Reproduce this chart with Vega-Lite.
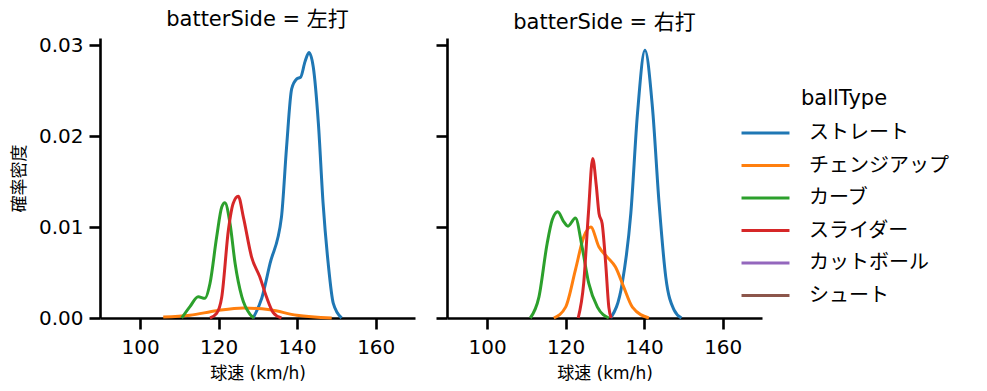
{
  "$schema": "https://vega.github.io/schema/vega-lite/v6.json",
  "background": "white",
  "padding": {"left": 10, "top": 9, "right": 5, "bottom": 5},
  "config": {
    "font": "DejaVu Sans, Noto Sans CJK JP",
    "view": {"stroke": null},
    "axis": {"grid": false, "domainColor": "black", "domainWidth": 2.6, "tickColor": "black", "tickWidth": 2.6, "tickSize": 11, "labelFontSize": 20, "labelColor": "black", "titleFontSize": 17, "titleFontWeight": "normal", "titleColor": "black", "labelPadding": 6, "titlePadding": 6},
    "axisX": {"labelPadding": 8, "titlePadding": 8},
    "title": {"fontSize": 21, "fontWeight": "normal", "color": "black", "offset": 5},
    "legend": {"titleFontSize": 21, "titleFontWeight": "normal", "labelFontSize": 20, "titleColor": "black", "labelColor": "black"},
    "concat": {"spacing": 19}
  },
  "datasets": {
    "kde": [
      {"side": "左打", "type": "ストレート", "x": 128.8, "d": 0},
      {"side": "左打", "type": "ストレート", "x": 131.0, "d": 0.0022},
      {"side": "左打", "type": "ストレート", "x": 133.1, "d": 0.0060},
      {"side": "左打", "type": "ストレート", "x": 136.0, "d": 0.0111},
      {"side": "左打", "type": "ストレート", "x": 137.3, "d": 0.0188},
      {"side": "左打", "type": "ストレート", "x": 138.6, "d": 0.0252},
      {"side": "左打", "type": "ストレート", "x": 139.9, "d": 0.0263},
      {"side": "左打", "type": "ストレート", "x": 140.9, "d": 0.0265},
      {"side": "左打", "type": "ストレート", "x": 142.0, "d": 0.0282},
      {"side": "左打", "type": "ストレート", "x": 143.0, "d": 0.0292},
      {"side": "左打", "type": "ストレート", "x": 144.1, "d": 0.0276},
      {"side": "左打", "type": "ストレート", "x": 145.4, "d": 0.0214},
      {"side": "左打", "type": "ストレート", "x": 146.6, "d": 0.0126},
      {"side": "左打", "type": "ストレート", "x": 147.9, "d": 0.0060},
      {"side": "左打", "type": "ストレート", "x": 149.2, "d": 0.0016},
      {"side": "左打", "type": "ストレート", "x": 151.3, "d": 0},
      {"side": "左打", "type": "チェンジアップ", "x": 105.9, "d": 0.0001},
      {"side": "左打", "type": "チェンジアップ", "x": 112.7, "d": 0.0003},
      {"side": "左打", "type": "チェンジアップ", "x": 119.5, "d": 0.0008},
      {"side": "左打", "type": "チェンジアップ", "x": 126.3, "d": 0.0011},
      {"side": "左打", "type": "チェンジアップ", "x": 133.1, "d": 0.0009},
      {"side": "左打", "type": "チェンジアップ", "x": 139.9, "d": 0.0003},
      {"side": "左打", "type": "チェンジアップ", "x": 148.8, "d": 0.0},
      {"side": "左打", "type": "カーブ", "x": 110.6, "d": 0},
      {"side": "左打", "type": "カーブ", "x": 112.7, "d": 0.00125},
      {"side": "左打", "type": "カーブ", "x": 114.8, "d": 0.00234},
      {"side": "左打", "type": "カーブ", "x": 116.5, "d": 0.00216},
      {"side": "左打", "type": "カーブ", "x": 117.8, "d": 0.0038},
      {"side": "左打", "type": "カーブ", "x": 119.5, "d": 0.0089},
      {"side": "左打", "type": "カーブ", "x": 120.8, "d": 0.0122},
      {"side": "左打", "type": "カーブ", "x": 121.6, "d": 0.01267},
      {"side": "左打", "type": "カーブ", "x": 122.9, "d": 0.0104},
      {"side": "左打", "type": "カーブ", "x": 124.2, "d": 0.0060},
      {"side": "左打", "type": "カーブ", "x": 125.9, "d": 0.00234},
      {"side": "左打", "type": "カーブ", "x": 128.0, "d": 0.0004},
      {"side": "左打", "type": "カーブ", "x": 129.0, "d": 0},
      {"side": "左打", "type": "スライダー", "x": 117.8, "d": 0},
      {"side": "左打", "type": "スライダー", "x": 119.5, "d": 0.0005},
      {"side": "左打", "type": "スライダー", "x": 120.8, "d": 0.0023},
      {"side": "左打", "type": "スライダー", "x": 122.5, "d": 0.0097},
      {"side": "左打", "type": "スライダー", "x": 123.7, "d": 0.0126},
      {"side": "左打", "type": "スライダー", "x": 125.0, "d": 0.0134},
      {"side": "左打", "type": "スライダー", "x": 126.3, "d": 0.0111},
      {"side": "左打", "type": "スライダー", "x": 128.4, "d": 0.0067},
      {"side": "左打", "type": "スライダー", "x": 130.5, "d": 0.0045},
      {"side": "左打", "type": "スライダー", "x": 132.2, "d": 0.0023},
      {"side": "左打", "type": "スライダー", "x": 133.9, "d": 0.0006},
      {"side": "左打", "type": "スライダー", "x": 136.0, "d": 0},
      {"side": "右打", "type": "ストレート", "x": 131.5, "d": 0},
      {"side": "右打", "type": "ストレート", "x": 134.4, "d": 0.0038},
      {"side": "右打", "type": "ストレート", "x": 136.6, "d": 0.0115},
      {"side": "右打", "type": "ストレート", "x": 138.3, "d": 0.0225},
      {"side": "右打", "type": "ストレート", "x": 140.2, "d": 0.02945},
      {"side": "右打", "type": "ストレート", "x": 142.1, "d": 0.0232},
      {"side": "右打", "type": "ストレート", "x": 143.8, "d": 0.0126},
      {"side": "右打", "type": "ストレート", "x": 145.5, "d": 0.0045},
      {"side": "右打", "type": "ストレート", "x": 147.6, "d": 0.0009},
      {"side": "右打", "type": "ストレート", "x": 149.5, "d": 0},
      {"side": "右打", "type": "チェンジアップ", "x": 117.0, "d": 0},
      {"side": "右打", "type": "チェンジアップ", "x": 120.0, "d": 0.0012},
      {"side": "右打", "type": "チェンジアップ", "x": 122.5, "d": 0.0053},
      {"side": "右打", "type": "チェンジアップ", "x": 124.6, "d": 0.0089},
      {"side": "右打", "type": "チェンジアップ", "x": 126.4, "d": 0.0100},
      {"side": "右打", "type": "チェンジアップ", "x": 128.5, "d": 0.0078},
      {"side": "右打", "type": "チェンジアップ", "x": 130.6, "d": 0.0067},
      {"side": "右打", "type": "チェンジアップ", "x": 132.7, "d": 0.0056},
      {"side": "右打", "type": "チェンジアップ", "x": 134.8, "d": 0.0034},
      {"side": "右打", "type": "チェンジアップ", "x": 137.0, "d": 0.0012},
      {"side": "右打", "type": "チェンジアップ", "x": 141.2, "d": 0},
      {"side": "右打", "type": "カーブ", "x": 111.0, "d": 0},
      {"side": "右打", "type": "カーブ", "x": 113.2, "d": 0.0023},
      {"side": "右打", "type": "カーブ", "x": 115.3, "d": 0.0082},
      {"side": "右打", "type": "カーブ", "x": 116.6, "d": 0.0108},
      {"side": "右打", "type": "カーブ", "x": 118.0, "d": 0.01168},
      {"side": "右打", "type": "カーブ", "x": 119.5, "d": 0.0106},
      {"side": "右打", "type": "カーブ", "x": 120.6, "d": 0.0101},
      {"side": "右打", "type": "カーブ", "x": 122.5, "d": 0.0110},
      {"side": "右打", "type": "カーブ", "x": 124.2, "d": 0.0078},
      {"side": "右打", "type": "カーブ", "x": 125.9, "d": 0.0038},
      {"side": "右打", "type": "カーブ", "x": 128.1, "d": 0.0012},
      {"side": "右打", "type": "カーブ", "x": 131.0, "d": 0},
      {"side": "右打", "type": "スライダー", "x": 123.2, "d": 0},
      {"side": "右打", "type": "スライダー", "x": 124.6, "d": 0.0038},
      {"side": "右打", "type": "スライダー", "x": 125.8, "d": 0.0115},
      {"side": "右打", "type": "スライダー", "x": 126.9, "d": 0.01755},
      {"side": "右打", "type": "スライダー", "x": 127.8, "d": 0.0146},
      {"side": "右打", "type": "スライダー", "x": 128.5, "d": 0.0115},
      {"side": "右打", "type": "スライダー", "x": 129.3, "d": 0.0104},
      {"side": "右打", "type": "スライダー", "x": 130.2, "d": 0.0060},
      {"side": "右打", "type": "スライダー", "x": 131.0, "d": 0.0012},
      {"side": "右打", "type": "スライダー", "x": 131.6, "d": 0}
    ]
  },
  "hconcat": [
    {
      "width": 315, "height": 280,
      "title": "batterSide = 左打",
      "data": {"name": "kde"},
      "transform": [{"filter": "datum.side === '左打'"}],
      "mark": {"type": "line", "strokeWidth": 3, "interpolate": "monotone"},
      "encoding": {
        "x": {"field": "x", "type": "quantitative", "title": "球速 (km/h)", "scale": {"domain": [89.8, 170], "nice": false, "zero": false}, "axis": {"values": [100, 120, 140, 160]}},
        "y": {"field": "d", "type": "quantitative", "title": "確率密度", "scale": {"domain": [0, 0.0308], "nice": false}, "axis": {"values": [0, 0.01, 0.02, 0.03], "format": ".2f", "titlePadding": 10}},
        "color": {"field": "type", "type": "nominal", "title": "ballType",
          "scale": {"domain": ["ストレート", "チェンジアップ", "カーブ", "スライダー", "カットボール", "シュート"], "range": ["#1f77b4", "#ff7f0e", "#2ca02c", "#d62728", "#9467bd", "#8c564b"]},
          "legend": {"orient": "none", "legendX": 640, "legendY": 50, "symbolType": "stroke", "symbolStrokeWidth": 3, "symbolSize": 2300, "clipHeight": 32, "rowPadding": 0.5, "titleAnchor": "middle", "titlePadding": 8, "labelOffset": 18}},
        "detail": {"field": "type"}
      }
    },
    {
      "width": 315, "height": 280,
      "title": "batterSide = 右打",
      "data": {"name": "kde"},
      "transform": [{"filter": "datum.side === '右打'"}],
      "mark": {"type": "line", "strokeWidth": 3, "interpolate": "monotone"},
      "encoding": {
        "x": {"field": "x", "type": "quantitative", "title": "球速 (km/h)", "scale": {"domain": [89.8, 170], "nice": false, "zero": false}, "axis": {"values": [100, 120, 140, 160]}},
        "y": {"field": "d", "type": "quantitative", "title": null, "scale": {"domain": [0, 0.0308], "nice": false}, "axis": {"values": [0, 0.01, 0.02, 0.03], "labels": false}},
        "color": {"field": "type", "type": "nominal", "title": "ballType",
          "scale": {"domain": ["ストレート", "チェンジアップ", "カーブ", "スライダー", "カットボール", "シュート"], "range": ["#1f77b4", "#ff7f0e", "#2ca02c", "#d62728", "#9467bd", "#8c564b"]}},
        "detail": {"field": "type"}
      }
    }
  ]
}
